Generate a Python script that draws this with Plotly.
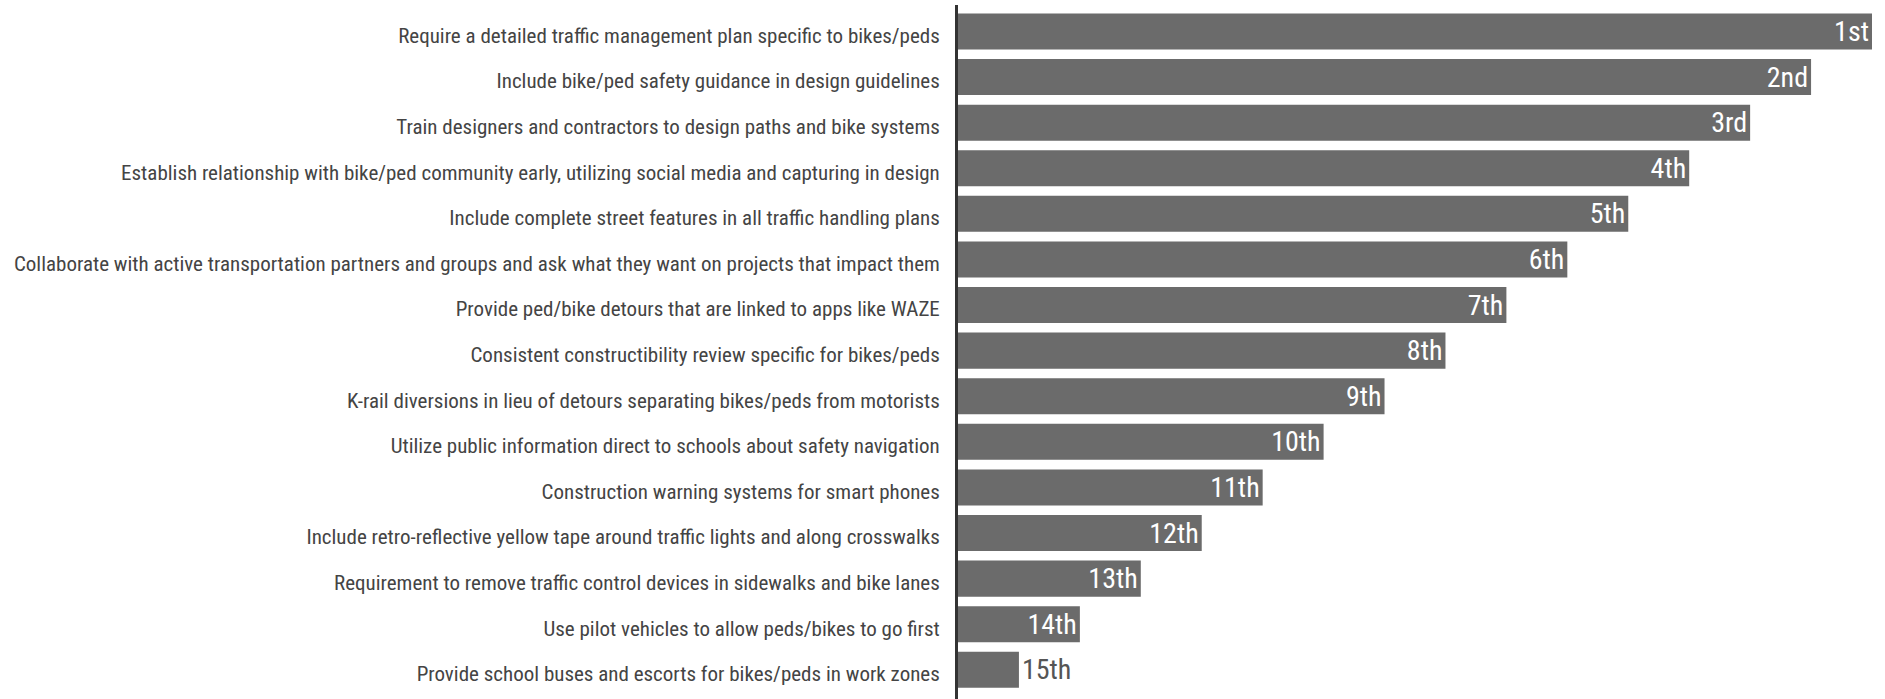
import plotly.graph_objects as go

categories = [
    "Require a detailed traffic management plan specific to bikes/peds",
    "Include bike/ped safety guidance in design guidelines",
    "Train designers and contractors to design paths and bike systems",
    "Establish relationship with bike/ped community early, utilizing social media and capturing in design",
    "Include complete street features in all traffic handling plans",
    "Collaborate with active transportation partners and groups and ask what they want on projects that impact them",
    "Provide ped/bike detours that are linked to apps like WAZE",
    "Consistent constructibility review specific for bikes/peds",
    "K-rail diversions in lieu of detours separating bikes/peds from motorists",
    "Utilize public information direct to schools about safety navigation",
    "Construction warning systems for smart phones",
    "Include retro-reflective yellow tape around traffic lights and along crosswalks",
    "Requirement to remove traffic control devices in sidewalks and bike lanes",
    "Use pilot vehicles to allow peds/bikes to go first",
    "Provide school buses and escorts for bikes/peds in work zones",
]
scores = [15, 14, 13, 12, 11, 10, 9, 8, 7, 6, 5, 4, 3, 2, 1]
rank_labels = ["1st", "2nd", "3rd", "4th", "5th", "6th", "7th", "8th", "9th",
               "10th", "11th", "12th", "13th", "14th", "15th"]

FONT = "Liberation Sans Narrow, Roboto Condensed, Arial Narrow, sans-serif"
positions = ["inside"] * (len(scores) - 1) + ["outside"]

fig = go.Figure(go.Bar(
    x=scores,
    y=categories,
    orientation="h",
    text=rank_labels,
    textposition=positions,
    insidetextanchor="end",
    constraintext="none",
    cliponaxis=False,
    marker=dict(color="#6b6b6b", line=dict(width=0)),
    insidetextfont=dict(family=FONT, size=28, color="white"),
    outsidetextfont=dict(family=FONT, size=28, color="#555555"),
    hoverinfo="x+y",
))

n = len(categories)
fig.update_layout(
    width=1885,
    height=699,
    margin=dict(l=958, r=13, t=5, b=0),
    plot_bgcolor="white",
    paper_bgcolor="white",
    bargap=0.21,
    showlegend=False,
    font=dict(family=FONT, color="#444444"),
    xaxis=dict(range=[0, 15], visible=False, fixedrange=True),
    yaxis=dict(
        type="category",
        range=[n - 1 + 0.64, -0.58],
        showline=True,
        linecolor="#333333",
        linewidth=3,
        ticks="",
        showgrid=False,
        automargin=False,
        ticklabelstandoff=11,
        ticklabelshift=-4,
        tickfont=dict(family=FONT, size=21, color="#444444"),
        fixedrange=True,
    ),
)

fig.write_html(
    "out.html",
    config={"displayModeBar": False},
    post_script="document.body.style.margin='0';document.body.style.overflow='hidden';",
)
